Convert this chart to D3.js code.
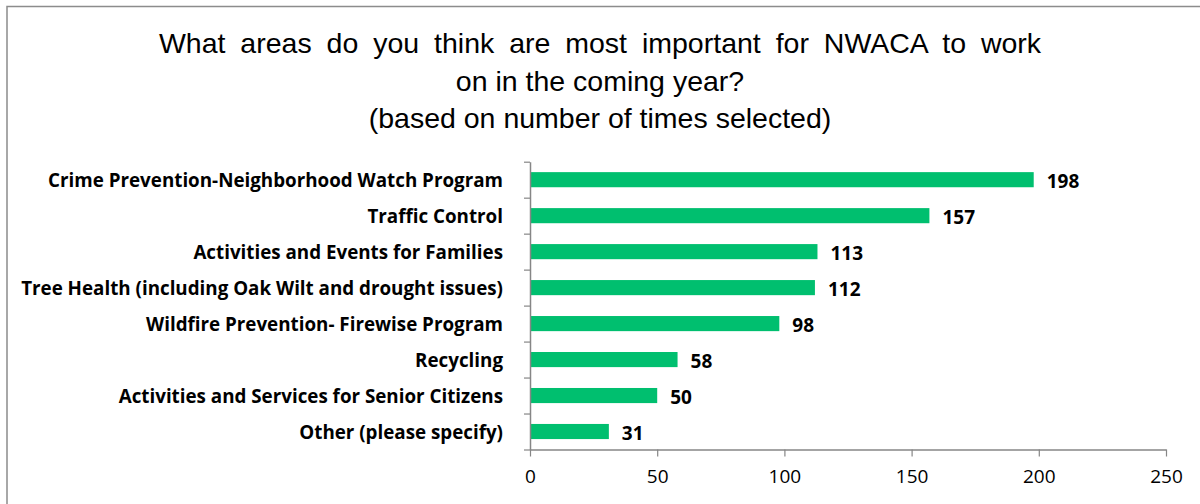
<!DOCTYPE html>
<html>
<head>
<meta charset="utf-8">
<script src="https://cdn.jsdelivr.net/npm/d3@7"></script>
<style>
  html, body { margin: 0; padding: 0; background: #fff; }
  svg { display: block; }
</style>
</head>
<body>
<svg id="chart" width="1200" height="504"></svg>
<script>
const categories = [
  "Crime Prevention-Neighborhood Watch Program",
  "Traffic Control",
  "Activities and Events for Families",
  "Tree Health (including Oak Wilt and drought issues)",
  "Wildfire Prevention- Firewise Program",
  "Recycling",
  "Activities and Services for Senior Citizens",
  "Other (please specify)"
];
const values = [198, 157, 113, 112, 98, 58, 50, 31];
const xTicks = [0, 50, 100, 150, 200, 250];
const titleLines = [
  "What areas do you think are most important for NWACA to work",
  "on in the coming year?",
  "(based on number of times selected)"
];

const svg = d3.select("#chart");
const axisColor = "#868686";
const barColor = "#00BF6F";
const labelFont = "'Open Sans', Lato, sans-serif";

// outer frame
svg.append("rect")
  .attr("x", 7).attr("y", 6.5).attr("width", 1250).attr("height", 600)
  .attr("fill", "none").attr("stroke", "#8c8c8c").attr("stroke-width", 1.5);

// title
svg.append("g").selectAll("text").data(titleLines).join("text")
  .attr("x", 600).attr("y", (d, i) => 53 + i * 37.5)
  .attr("text-anchor", "middle")
  .attr("font-family", "Liberation Sans, Arial, sans-serif")
  .attr("font-size", 28.5)
  .attr("word-spacing", (d, i) => i === 0 ? 7 : 0)
  .attr("fill", "#000")
  .text(d => d);

const x = d3.scaleLinear().domain([0, 250]).range([530, 1166]);
const y = d3.scaleBand().domain(categories).range([161.7, 449.5])
  .paddingInner(0.58).paddingOuter(0.29);

// bars
svg.append("g").selectAll("rect").data(values).join("rect")
  .attr("x", x(0))
  .attr("y", (d, i) => y(categories[i]))
  .attr("width", d => x(d) - x(0))
  .attr("height", y.bandwidth())
  .attr("fill", barColor);

// value labels
svg.append("g").selectAll("text").data(values).join("text")
  .attr("x", d => x(d) + 13)
  .attr("y", (d, i) => y(categories[i]) + y.bandwidth() / 2 + 1.5)
  .attr("dy", "0.35em")
  .attr("font-family", labelFont)
  .attr("font-weight", "bold")
  .attr("font-size", 19)
  .attr("fill", "#000")
  .text(d => d);

// x axis
const xAxis = svg.append("g")
  .attr("transform", "translate(0,449.5)")
  .call(d3.axisBottom(x).tickValues(xTicks).tickSize(7).tickSizeOuter(0).tickPadding(13));
xAxis.select(".domain").attr("stroke", axisColor).attr("stroke-width", 1.5);
xAxis.selectAll(".tick line").attr("stroke", axisColor).attr("stroke-width", 1.2);
xAxis.selectAll(".tick text")
  .attr("font-family", labelFont)
  .attr("font-size", 19)
  .attr("fill", "#000");

// y axis (category boundary ticks)
const yb = d3.scaleLinear().domain([0, categories.length]).range([161.7, 449.5]);
const yAxis = svg.append("g")
  .attr("transform", "translate(530,0)")
  .call(d3.axisLeft(yb).tickValues(d3.range(0, categories.length + 1))
    .tickSize(6).tickSizeOuter(0).tickFormat(""));
yAxis.select(".domain").attr("stroke", axisColor).attr("stroke-width", 1.5);
yAxis.selectAll(".tick line").attr("stroke", axisColor).attr("stroke-width", 1.2);

// category labels
svg.append("g").selectAll("text").data(categories).join("text")
  .attr("x", 503)
  .attr("y", d => y(d) + y.bandwidth() / 2 + 0.8)
  .attr("dy", "0.35em")
  .attr("text-anchor", "end")
  .attr("font-family", labelFont)
  .attr("font-weight", "bold")
  .attr("font-size", 18.8)
  .attr("fill", "#000")
  .text(d => d);
</script>
</body>
</html>
